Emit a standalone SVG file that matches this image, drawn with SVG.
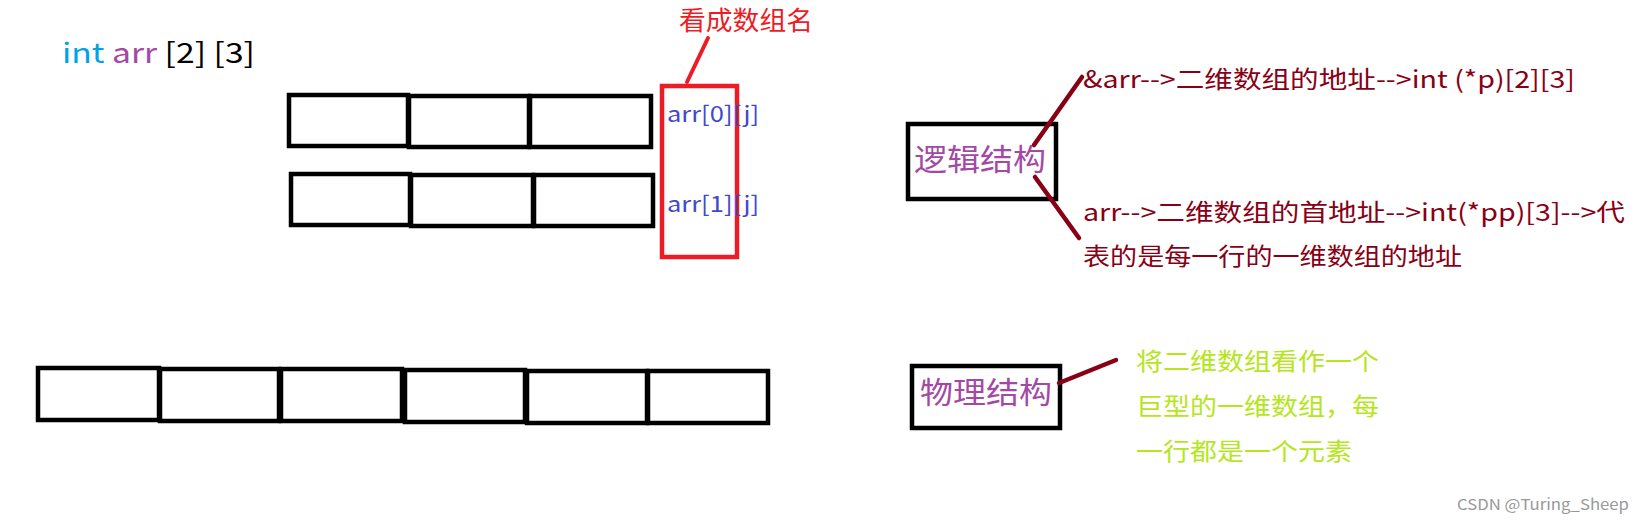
<svg xmlns="http://www.w3.org/2000/svg" width="1641" height="527" viewBox="0 0 1641 527">
<style>
text{font-family:"Noto Sans CJK SC","Liberation Sans",sans-serif}
.cell{fill:none;stroke:#000;stroke-width:4.5}
.lnk{stroke:#880015;stroke-width:4.5;stroke-linecap:round}
.dr{fill:#880015;font-size:24px}
.gr{fill:#b5e61d;font-size:24px}
.bl{fill:#3f48cc;font-size:22px}
.pu{fill:#a349a4;font-size:30px}
</style>
<rect width="1641" height="527" fill="#fff"/>
<g id="title"><text x="62" y="63" font-size="28" textLength="193" lengthAdjust="spacingAndGlyphs"><tspan fill="#00a2e8">int </tspan><tspan fill="#a349a4">arr </tspan><tspan fill="#000">[2] [3]</tspan></text></g>
<g id="row0">
<rect class="cell" x="289" y="95" width="119" height="51"/>
<rect class="cell" x="409" y="96" width="120" height="51"/>
<rect class="cell" x="530" y="96" width="121" height="51"/>
</g>
<g id="row1">
<rect class="cell" x="291" y="174" width="119" height="51"/>
<rect class="cell" x="411" y="175" width="122" height="51"/>
<rect class="cell" x="534" y="175" width="119" height="51"/>
</g>
<g id="rowname">
<rect x="662" y="86" width="75" height="171" fill="none" stroke="#ed1c24" stroke-width="4.5"/>
<text class="bl" x="667" y="122" textLength="92" lengthAdjust="spacingAndGlyphs">arr[0][j]</text>
<text class="bl" x="667" y="212" textLength="92" lengthAdjust="spacingAndGlyphs">arr[1][j]</text>
<text x="679" y="30" fill="#ed1c24" font-size="26" textLength="134" lengthAdjust="spacingAndGlyphs">看成数组名</text>
</g>
<g id="flat">
<rect class="cell" x="38" y="368" width="121" height="52"/>
<rect class="cell" x="160" y="369" width="119" height="52"/>
<rect class="cell" x="281" y="369" width="121" height="52"/>
<rect class="cell" x="405" y="370" width="120" height="52"/>
<rect class="cell" x="527" y="371" width="120" height="52"/>
<rect class="cell" x="648" y="371" width="120" height="52"/>
</g>
<g id="logic">
<rect class="cell" x="908" y="124" width="148" height="75"/>
<text class="pu" x="914" y="170" textLength="132" lengthAdjust="spacingAndGlyphs">逻辑结构</text>
</g>
<g id="phys">
<rect class="cell" x="912" y="366" width="148" height="62"/>
<text class="pu" x="920" y="403" textLength="132" lengthAdjust="spacingAndGlyphs">物理结构</text>
</g>
<g id="notes">
<text class="dr" x="1083" y="88" textLength="492" lengthAdjust="spacingAndGlyphs">&amp;arr--&gt;二维数组的地址--&gt;int (*p)[2][3]</text>
<text class="dr" x="1083" y="221" textLength="542" lengthAdjust="spacingAndGlyphs">arr--&gt;二维数组的首地址--&gt;int(*pp)[3]--&gt;代</text>
<text class="dr" x="1083" y="265" textLength="379" lengthAdjust="spacingAndGlyphs">表的是每一行的一维数组的地址</text>
<text class="gr" x="1136" y="370" textLength="243" lengthAdjust="spacingAndGlyphs">将二维数组看作一个</text>
<text class="gr" x="1136" y="415" textLength="243" lengthAdjust="spacingAndGlyphs">巨型的一维数组，每</text>
<text class="gr" x="1136" y="460" textLength="216" lengthAdjust="spacingAndGlyphs">一行都是一个元素</text>
</g>
<g id="connectors">
<line x1="687" y1="82" x2="708" y2="38" stroke="#ed1c24" stroke-width="4" stroke-linecap="round"/>
<line class="lnk" x1="1034" y1="145" x2="1082" y2="77"/>
<line class="lnk" x1="1035" y1="177" x2="1079" y2="238"/>
<line class="lnk" x1="1059" y1="383" x2="1116" y2="360"/>
</g>
<text x="1457" y="510" fill="#999" font-size="15" textLength="172" lengthAdjust="spacingAndGlyphs">CSDN @Turing_Sheep</text>
</svg>
